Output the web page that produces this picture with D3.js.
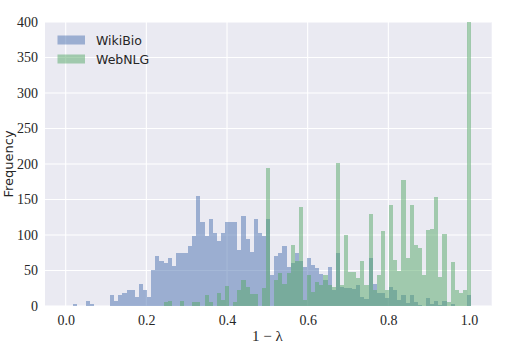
<!DOCTYPE html>
<html><head><meta charset="utf-8">
<script src="https://cdn.jsdelivr.net/npm/d3@7"></script>
<style>body{margin:0;background:#fff}</style>
</head><body>
<svg id="c" width="509" height="362"></svg>
<script>
// Histogram bins (shared by both series)
const binStart = 0.0188;
const binWidth = 0.01017;
const xTicks = [0.0, 0.2, 0.4, 0.6, 0.8, 1.0];
const yTicks = [0, 50, 100, 150, 200, 250, 300, 350, 400];
const seriesNames = ["WikiBio", "WebNLG"];
const wikiBio = [3,0,0,7,3,0,0,0,0,15,7,15,19,23,23,13,31,23,12,51,
  71,63,60,68,56,75,75,75,84,99,155,119,99,123,103,92,103,119,119,119,
  79,127,95,76,123,103,99,123,44,71,75,84,55,60,75,64,55,67,58,53,
  45,37,55,22,75,27,25,25,24,30,12,10,67,31,19,19,11,27,22,9,
  15,4,15,6,2,0,11,3,7,2,7,0,3,0,0,0,15];
const webNLG = [0,0,0,0,0,0,0,0,0,0,0,0,0,0,0,0,0,0,0,0,
  0,0,6,7,0,0,7,0,0,6,6,0,15,5,0,18,8,28,0,6,
  22,37,27,17,17,0,25,195,0,37,47,31,47,86,64,140,8,43,20,34,
  30,44,30,27,201,30,100,48,48,40,63,30,130,22,44,105,22,142,65,50,
  178,68,142,86,82,44,107,108,153,41,101,6,62,22,19,22,400];

const svg = d3.select("#c");
const L = 45, R = 491.7, T = 22, B = 306;
const x = d3.scaleLinear().domain([-0.0513, 1.0563]).range([L, R]);
const y = d3.scaleLinear().domain([0, 400]).range([B, T]);

svg.append("rect").attr("x", L).attr("y", T).attr("width", R - L).attr("height", B - T).attr("fill", "#EAEAF2");
svg.append("defs").append("clipPath").attr("id", "clip").append("rect")
  .attr("x", L).attr("y", T).attr("width", R - L).attr("height", B - T);

// grid
const g = svg.append("g");
g.selectAll(".gx").data(xTicks).enter().append("line")
  .attr("x1", d => x(d)).attr("x2", d => x(d)).attr("y1", T).attr("y2", B)
  .attr("stroke", "#fff").attr("stroke-width", 1.1);
g.selectAll(".gy").data(yTicks).enter().append("line")
  .attr("x1", L).attr("x2", R).attr("y1", d => y(d)).attr("y2", d => y(d))
  .attr("stroke", "#fff").attr("stroke-width", 1.1);

const colors = ["#4C72B0", "#55A868"];
function drawBars(data, color) {
  svg.append("g").attr("clip-path", "url(#clip)")
    .selectAll("rect").data(data).enter().append("rect")
    .attr("x", (d, i) => x(binStart + i * binWidth))
    .attr("width", (d, i) => x(binStart + (i + 1) * binWidth) - x(binStart + i * binWidth))
    .attr("y", d => y(d))
    .attr("height", d => y(0) - y(d))
    .attr("fill", color).attr("fill-opacity", 0.5)
    .attr("shape-rendering", "crispEdges");
}
drawBars(wikiBio, colors[0]);
drawBars(webNLG, colors[1]);

// axes (tick labels only)
const xAxis = d3.axisBottom(x).tickValues(xTicks).tickFormat(d3.format(".1f")).tickSize(0).tickPadding(9);
const ax = svg.append("g").attr("transform", `translate(0,${B})`).call(xAxis);
const yAxis = d3.axisLeft(y).tickValues(yTicks).tickFormat(d3.format("d")).tickSize(0).tickPadding(7);
const ay = svg.append("g").attr("transform", `translate(${L},0)`).call(yAxis);
[ax, ay].forEach(a => {
  a.select(".domain").remove();
  a.selectAll("text").attr("font-family", "'Liberation Serif', serif").attr("font-size", 14).attr("fill", "#262626");
});

svg.append("text").attr("x", x(0.5)).attr("y", 341).attr("text-anchor", "middle")
  .attr("font-family", "'Liberation Serif', serif").attr("font-size", 15).attr("fill", "#262626")
  .text("1 − λ");
svg.append("text").attr("transform", `translate(13,${(T + B) / 2}) rotate(-90)`)
  .attr("text-anchor", "middle").attr("font-family", "'DejaVu Sans', sans-serif").attr("font-size", 13).attr("fill", "#262626")
  .text("Frequency");

// legend
const leg = svg.append("g");
seriesNames.forEach((n, i) => {
  leg.append("rect").attr("x", 57.5).attr("y", 35.5 + i * 19).attr("width", 27.5).attr("height", 9)
    .attr("fill", colors[i]).attr("fill-opacity", 0.5);
  leg.append("text").attr("x", 96).attr("y", 44.5 + i * 19)
    .attr("font-family", "'DejaVu Sans', sans-serif").attr("font-size", 12.5).attr("fill", "#262626").text(n);
});
</script>
</body></html>
